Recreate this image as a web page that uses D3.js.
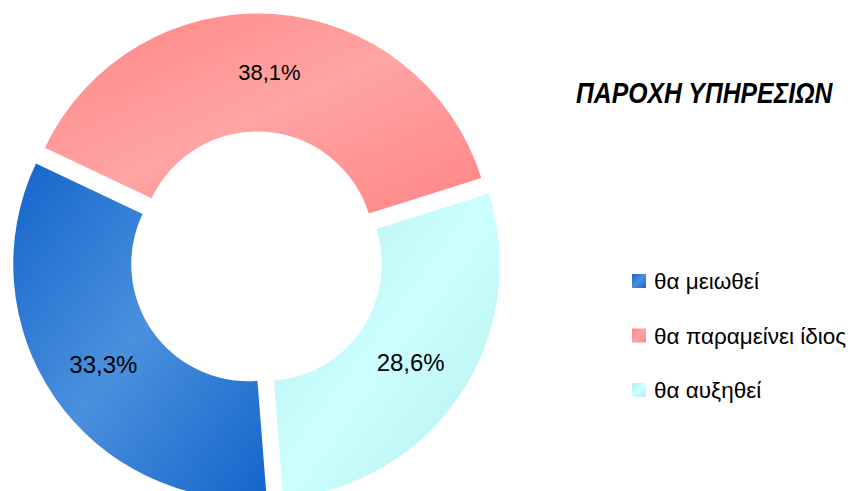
<!DOCTYPE html>
<html>
<head>
<meta charset="utf-8">
<script src="https://cdn.jsdelivr.net/npm/d3@7"></script>
<style>
  html, body { margin: 0; padding: 0; background: #fff; }
  svg { display: block; }
</style>
</head>
<body>
<svg id="chart" width="853" height="491"></svg>
<script>
// Survey answers about the provision of services
const categories = ["θα μειωθεί", "θα παραμείνει ίδιος", "θα αυξηθεί"];
const values = [33.3, 38.1, 28.6];
const labels = ["33,3%", "38,1%", "28,6%"];
const darkColors = ["#1464cb", "#ff8585", "#b6eded"];
const lightColors = ["#4a90dd", "#ffa4a4", "#ccffff"];
const title = "ΠΑΡΟΧΗ ΥΠΗΡΕΣΙΩΝ";

const svg = d3.select("#chart");
const defs = svg.append("defs");

// axial (dark-light-dark) diagonal gradient for every series
categories.forEach((c, i) => {
  const g = defs.append("linearGradient")
    .attr("id", "grad" + i)
    .attr("x1", 0).attr("y1", 0).attr("x2", 1).attr("y2", 1);
  g.append("stop").attr("offset", 0).attr("stop-color", darkColors[i]);
  g.append("stop").attr("offset", 0.5).attr("stop-color", lightColors[i]);
  g.append("stop").attr("offset", 1).attr("stop-color", darkColors[i]);
});

const cx = 256.5, cy = 258.5;
const outerR = 235, innerR = 117, explode = 10;
const start = 175.5 * Math.PI / 180;

const pie = d3.pie().sort(null).value(d => d)
  .startAngle(start).endAngle(start + 2 * Math.PI);
const arcs = pie(values);
const arc = d3.arc().innerRadius(innerR).outerRadius(outerR);

const ring = svg.append("g").attr("transform", `translate(${cx},${cy})`);

const slice = ring.selectAll("g.slice")
  .data(arcs)
  .enter().append("g")
  .attr("class", "slice")
  .attr("transform", d => {
    const m = (d.startAngle + d.endAngle) / 2;
    return `translate(${explode * Math.sin(m)},${-explode * Math.cos(m)})`;
  });

slice.append("path")
  .attr("d", arc)
  .attr("fill", (d, i) => `url(#grad${i})`);

const labelSizes = [24, 22, 24];
slice.append("text")
  .attr("transform", d => `translate(${arc.centroid(d)})`)
  .attr("text-anchor", "middle")
  .attr("dominant-baseline", "central")
  .attr("font-family", "'Liberation Sans', Arial, sans-serif")
  .attr("font-size", (d, i) => labelSizes[i])
  .attr("fill", "#000")
  .text((d, i) => labels[i]);

// title, horizontally condensed
const titleScale = 0.855;
svg.append("text")
  .attr("transform", `translate(576,103) scale(${titleScale},1)`)
  .attr("font-family", "'Liberation Sans', Arial, sans-serif")
  .attr("font-size", 29)
  .attr("font-weight", "bold")
  .attr("font-style", "italic")
  .text(title);

// legend
const legend = svg.append("g").attr("transform", "translate(632,274)");
const item = legend.selectAll("g.item")
  .data(categories)
  .enter().append("g")
  .attr("class", "item")
  .attr("transform", (d, i) => `translate(0,${i * 54.5})`);

item.append("rect")
  .attr("width", 14).attr("height", 14)
  .attr("fill", (d, i) => `url(#grad${i})`);

item.append("text")
  .attr("x", 22).attr("y", 15)
  .attr("font-family", "'Liberation Sans', Arial, sans-serif")
  .attr("font-size", 22.5)
  .attr("fill", "#000")
  .text(d => d);
</script>
</body>
</html>
